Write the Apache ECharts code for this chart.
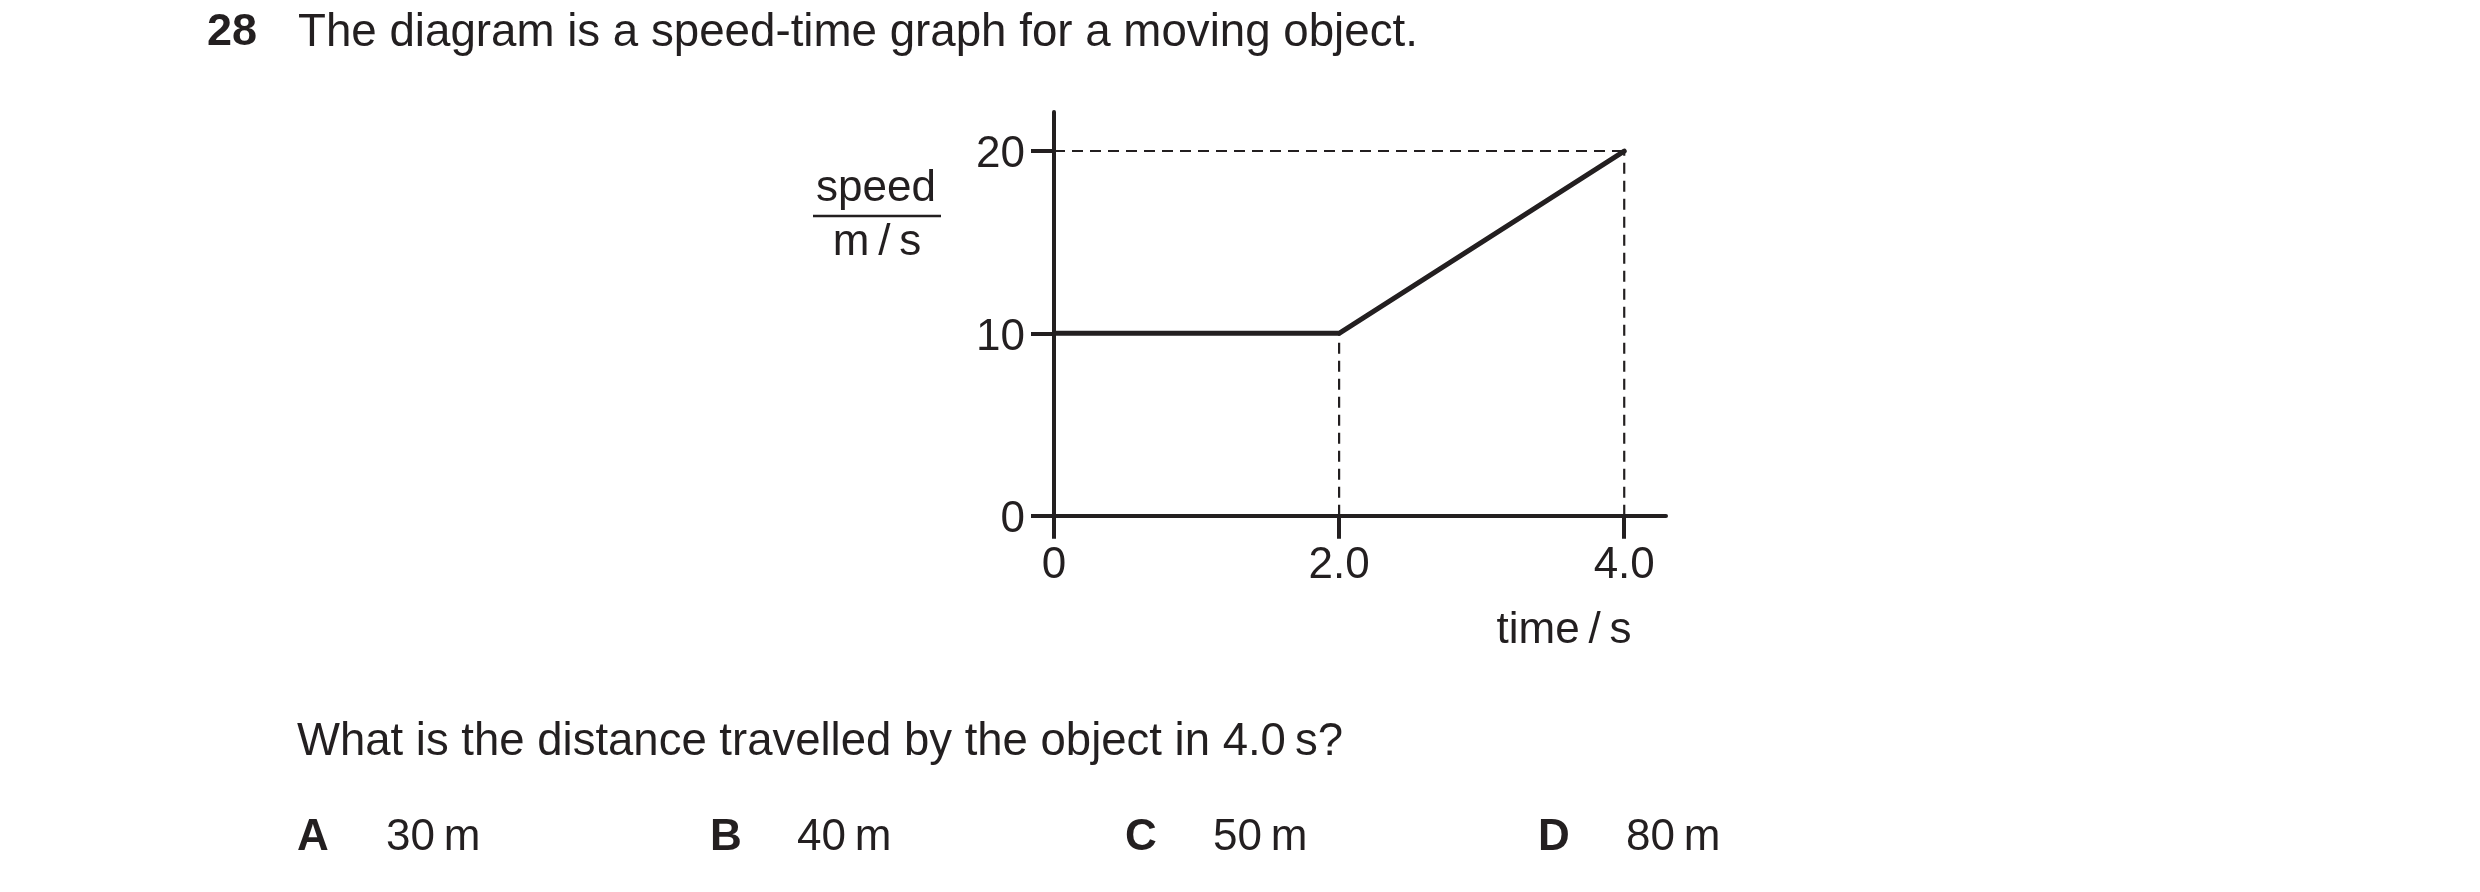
<!DOCTYPE html>
<html>
<head>
<meta charset="utf-8">
<style>
html,body{margin:0;padding:0;background:#fff;}
#chart{width:2480px;height:892px;}
</style>
<script src="https://cdn.jsdelivr.net/npm/echarts@6/dist/echarts.min.js"></script>
</head>
<body>
<div id="chart"></div>
<script>
// ---- data ----
const timeValues = [0, 2.0, 4.0];
const speedValues = [10, 10, 20];
const xTicks = [0, 2, 4];
const xTickLabels = ['0', '2.0', '4.0'];
const yTicks = [0, 10, 20];
const yTickLabels = ['0', '10', '20'];
const questionNumber = '28';
const questionTitle = 'The diagram is a speed-time graph for a moving object.';
const questionText = 'What is the distance travelled by the object in 4.0\u2009s?';
const optionLetters = ['A', 'B', 'C', 'D'];
const optionValues = ['30\u2009m', '40\u2009m', '50\u2009m', '80\u2009m'];

const INK = '#231f20';
const FONT = '"Liberation Sans", Arial, sans-serif';

const mainLine = timeValues.map((t, i) => [t, speedValues[i]]);
const last = timeValues.length - 1;
const guides = [
  [[0, speedValues[last]], [timeValues[last], speedValues[last]]],
  [[timeValues[1], 0], [timeValues[1], speedValues[1]]],
  [[timeValues[last], 0], [timeValues[last], speedValues[last]]]
];

const chart = echarts.init(document.getElementById('chart'), null, {renderer: 'canvas'});

const optX = [297, 710, 1125, 1538];
const valX = [386, 797, 1213, 1626];
const graphics = [
  {type: 'text', x: 207, y: 33, style: {text: questionNumber, font: 'bold 45px ' + FONT, fill: INK, align: 'left', verticalAlign: 'middle'}},
  {type: 'text', x: 298, y: 33, style: {text: questionTitle, font: '45.7px ' + FONT, fill: INK, verticalAlign: 'middle', align: 'left'}},
  {type: 'text', x: 876, y: 189, style: {text: 'speed', font: '44px ' + FONT, fill: INK, align: 'center', verticalAlign: 'middle'}},
  {type: 'line', shape: {x1: 813, y1: 216, x2: 941, y2: 216}, style: {stroke: INK, lineWidth: 2.5}},
  {type: 'text', x: 877, y: 243, style: {text: 'm\u2009/\u2009s', font: '44px ' + FONT, fill: INK, align: 'center', verticalAlign: 'middle'}},
  {type: 'text', x: 1564, y: 631, style: {text: 'time\u2009/\u2009s', font: '44px ' + FONT, fill: INK, align: 'center', verticalAlign: 'middle'}},
  {type: 'text', x: 297, y: 742, style: {text: questionText, font: '45.5px ' + FONT, fill: INK, align: 'left', verticalAlign: 'middle'}}
];
optionLetters.forEach((l, i) => {
  graphics.push({type: 'text', x: optX[i], y: 838, style: {text: l, font: 'bold 44px ' + FONT, fill: INK, align: 'left', verticalAlign: 'middle'}});
  graphics.push({type: 'text', x: valX[i], y: 838, style: {text: optionValues[i], font: '44px ' + FONT, fill: INK, align: 'left', verticalAlign: 'middle'}});
});

const option = {
  animation: false,
  backgroundColor: '#ffffff',
  grid: {left: 1054, top: 112, right: 2480 - 1666, bottom: 892 - 515.7, containLabel: false},
  xAxis: {
    type: 'value', min: 0, max: 4.293,
    splitLine: {show: false},
    axisLine: {show: true, onZero: false, lineStyle: {color: INK, width: 4}},
    axisTick: {show: true, length: 23, inside: false, customValues: xTicks, lineStyle: {color: INK, width: 4}},
    axisLabel: {customValues: xTicks, margin: 28, fontSize: 44, fontFamily: FONT, color: INK,
      formatter: v => xTickLabels[xTicks.indexOf(v)]}
  },
  yAxis: {
    type: 'value', min: 0, max: 22.14,
    splitLine: {show: false},
    axisLine: {show: true, onZero: false, lineStyle: {color: INK, width: 4}},
    axisTick: {show: true, length: 23, inside: false, customValues: yTicks, lineStyle: {color: INK, width: 4}},
    axisLabel: {customValues: yTicks, margin: 29, fontSize: 44, fontFamily: FONT, color: INK,
      verticalAlign: 'top', lineHeight: 8,
      formatter: v => yTickLabels[yTicks.indexOf(v)]}
  },
  series: guides.map(g => ({
    type: 'line', data: g, symbol: 'none', silent: true, z: 1,
    lineStyle: {color: INK, width: 2.2, type: [11, 7]}
  })).concat([{
    type: 'line', data: mainLine, symbol: 'none', z: 3,
    lineStyle: {color: INK, width: 5, cap: 'round', join: 'round'}
  }]),
  graphic: graphics
};
chart.setOption(option);
</script>
</body>
</html>
